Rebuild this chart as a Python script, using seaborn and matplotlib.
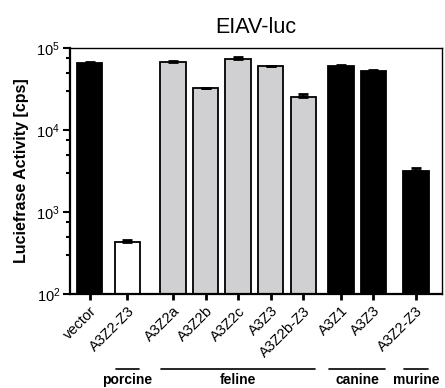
import numpy as np
import pandas as pd
import seaborn as sns
import matplotlib.pyplot as plt
from matplotlib.ticker import LogLocator, LogFormatterMathtext, FixedLocator

# data
labels = ["vector", "A3Z2-Z3", "A3Z2a", "A3Z2b", "A3Z2c", "A3Z3", "A3Z2b-Z3",
          "A3Z1", "A3Z3", "A3Z2-Z3"]
groups = ["vector", "porcine", "feline", "feline", "feline", "feline", "feline",
          "canine", "canine", "murine"]
activity = [66000, 436, 67300, 32300, 74000, 60100, 25400, 60700, 53200, 3215]
err_up = [1200, 18, 1800, 600, 3500, 1100, 1900, 700, 900, 200]

group_names = ["porcine", "feline", "canine", "murine"]
palette = {"vector": "black", "porcine": "white", "feline": "#d0d0d2",
           "canine": "black", "murine": "black"}

# extra spacing before each group (layout only)
group_gap = {"vector": 0.0, "porcine": 0.15, "feline": 0.4, "canine": 0.15, "murine": 0.3}
pos = []
x = 0.0
prev = None
for i, g in enumerate(groups):
    if i > 0:
        x += 1.0 + (group_gap[g] if g != prev else 0.0)
    pos.append(x)
    prev = g

df = pd.DataFrame({"pos": pos, "activity": activity, "group": groups, "label": labels})

sns.set_style("ticks", {"text.color": "black", "axes.labelcolor": "black",
                        "xtick.color": "black", "ytick.color": "black",
                        "axes.edgecolor": "black"})
plt.rcParams["font.family"] = ["Liberation Sans", "DejaVu Sans"]
plt.rcParams["mathtext.default"] = "regular"

fig = plt.figure(figsize=(4.45, 3.88), dpi=100)
ax = fig.add_axes([0.157, 0.242, 0.836, 0.634])
ax.set_yscale("log")

sns.barplot(data=df, x="pos", y="activity", hue="group", palette=palette,
            native_scale=True, dodge=False, width=0.78, edgecolor="black",
            linewidth=1.3, errorbar=None, legend=False, ax=ax)

ax.errorbar(df["pos"], df["activity"], yerr=[np.zeros(len(err_up)), err_up],
            fmt="none", ecolor="black", elinewidth=1.5, capsize=3.5, capthick=2)

ax.set_ylim(100, 1e5)
ax.set_xlim(-0.61, 10.8)
ax.yaxis.set_major_locator(LogLocator(base=10))
ax.yaxis.set_major_formatter(LogFormatterMathtext())
ax.yaxis.set_minor_locator(LogLocator(base=10, subs=(3.0, 5.0, 7.5)))
ax.yaxis.set_minor_formatter(plt.NullFormatter())
ax.tick_params(axis="y", which="major", length=5, width=1.5, labelsize=10.5, pad=2)
ax.tick_params(axis="y", which="minor", length=3, width=1.5)

ax.xaxis.set_major_locator(FixedLocator(pos))
ax.set_xticklabels(labels, rotation=45, ha="right", rotation_mode="anchor", fontsize=10.5)
ax.tick_params(axis="x", which="major", length=4, width=2, pad=3)
ax.tick_params(axis="x", which="minor", length=0)
ax.set_xlabel("")

ax.set_ylabel("Luciefrase Activity [cps]", fontsize=11.5, fontweight="bold", labelpad=5)
ax.set_title("EIAV-luc", fontsize=15.5, pad=11)

for side in ["left", "bottom"]:
    ax.spines[side].set_linewidth(1.6)
for side in ["top", "right"]:
    ax.spines[side].set_visible(True)
    ax.spines[side].set_linewidth(1.0)

# species group brackets under the tick labels
trans = ax.get_xaxis_transform()
for name in group_names:
    xs = [p for p, g in zip(pos, groups) if g == name]
    x0, x1 = min(xs) - 0.36, max(xs) + 0.36
    ax.plot([x0, x1], [-0.305, -0.305], color="black", lw=1.2, transform=trans,
            clip_on=False)
    ax.text((x0 + x1) / 2, -0.322, name, transform=trans, ha="center", va="top",
            fontsize=10, fontweight="bold")

fig.savefig("out.png", dpi=100)
